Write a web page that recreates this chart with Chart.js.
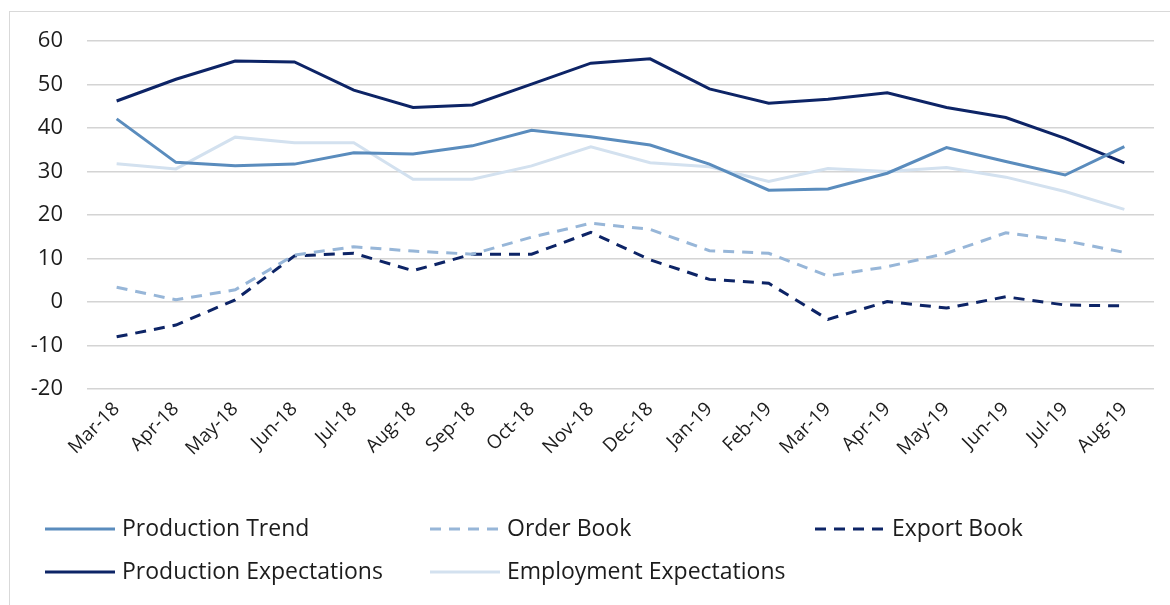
<!DOCTYPE html>
<html>
<head>
<meta charset="utf-8">
<script src="https://cdn.jsdelivr.net/npm/chart.js@4.4.1/dist/chart.umd.min.js"></script>
<style>
  html, body { margin: 0; padding: 0; background: #fff; }
  #wrap { position: relative; width: 1170px; height: 605px; overflow: hidden; }
  #frame { position: absolute; left: 9px; top: 11px; width: 1200px; height: 650px; border: 1px solid #d9d9d9; }
  #chart { position: absolute; left: 0; top: 0; }
</style>
</head>
<body>
<div id="wrap">
  <div id="frame"></div>
  <canvas id="chart" width="1170" height="605"></canvas>
</div>
<script>
// --- Data ---
const months = ['Mar-18', 'Apr-18', 'May-18', 'Jun-18', 'Jul-18', 'Aug-18', 'Sep-18', 'Oct-18', 'Nov-18',
  'Dec-18', 'Jan-19', 'Feb-19', 'Mar-19', 'Apr-19', 'May-19', 'Jun-19', 'Jul-19', 'Aug-19'];
const productionTrend = [42.1, 32.1, 31.3, 31.7, 34.3, 34.0, 35.9, 39.5, 38.0, 36.1, 31.7, 25.7, 26.0, 29.6, 35.5, 32.3, 29.2, 35.7];
const orderBook = [3.4, 0.5, 2.8, 10.8, 12.7, 11.7, 11.0, 14.9, 18.1, 16.7, 11.8, 11.2, 6.0, 8.1, 11.2, 15.9, 14.1, 11.4];
const exportBook = [-8.0, -5.3, 0.5, 10.6, 11.2, 7.2, 11.0, 11.0, 16.0, 9.7, 5.2, 4.3, -4.0, 0.1, -1.4, 1.2, -0.7, -0.9];
const productionExpectations = [46.2, 51.2, 55.4, 55.2, 48.7, 44.7, 45.3, 50.1, 54.9, 55.9, 49.0, 45.7, 46.6, 48.1, 44.7, 42.4, 37.6, 32.0];
const employmentExpectations = [31.8, 30.6, 37.9, 36.6, 36.6, 28.2, 28.2, 31.3, 35.7, 32.0, 31.1, 27.7, 30.7, 30.0, 30.9, 28.7, 25.4, 21.3];

const FONT = "'Open Sans', sans-serif";
const TEXT = '#1c1c1c';
const DASH = [11, 8];

function series(label, data, color, dashed) {
  return {
    label: label, data: data, borderColor: color, backgroundColor: color,
    borderWidth: 3, borderDash: dashed ? DASH : [], pointRadius: 0, tension: 0, fill: false
  };
}

// Legend laid out as a 3-column grid under the axis
const gridLegend = {
  id: 'gridLegend',
  afterDraw(chart) {
    const ctx = chart.ctx;
    const colX = [45, 430, 815];
    const rowY = [529, 572];
    ctx.save();
    ctx.font = '23px ' + FONT;
    ctx.fillStyle = TEXT;
    ctx.textBaseline = 'middle';
    chart.data.datasets.forEach((ds, i) => {
      const x = colX[i % 3];
      const y = rowY[Math.floor(i / 3)];
      ctx.strokeStyle = ds.borderColor;
      ctx.lineWidth = 3;
      ctx.setLineDash(ds.borderDash);
      ctx.beginPath();
      ctx.moveTo(x, y);
      ctx.lineTo(x + 70, y);
      ctx.stroke();
      ctx.setLineDash([]);
      ctx.fillText(ds.label, x + 77, y);
    });
    ctx.restore();
  }
};

new Chart(document.getElementById('chart'), {
  type: 'line',
  data: {
    labels: months,
    datasets: [
      series('Production Trend', productionTrend, '#5a8cbd', false),
      series('Order Book', orderBook, '#97b6d8', true),
      series('Export Book', exportBook, '#0d2466', true),
      series('Production Expectations', productionExpectations, '#0d2466', false),
      series('Employment Expectations', employmentExpectations, '#d3e1ef', false)
    ]
  },
  options: {
    responsive: false,
    animation: false,
    layout: { padding: { top: 41, left: 0, right: 16, bottom: 110 } },
    plugins: { legend: { display: false }, tooltip: { enabled: false } },
    scales: {
      x: {
        offset: true,
        grid: { display: false },
        border: { display: false },
        ticks: { color: TEXT, font: { family: FONT, size: 19 }, minRotation: 45, maxRotation: 45, padding: 1, autoSkip: false },
        afterFit(scale) { scale.height = 106; }
      },
      y: {
        min: -20, max: 60,
        ticks: { stepSize: 10, color: TEXT, font: { family: FONT, size: 22 }, padding: 24 },
        grid: { color: '#d4d4d4', lineWidth: 1.5, drawTicks: false },
        border: { display: false },
        afterFit(scale) { scale.width = 87; }
      }
    }
  },
  plugins: [gridLegend]
});
</script>
</body>
</html>
